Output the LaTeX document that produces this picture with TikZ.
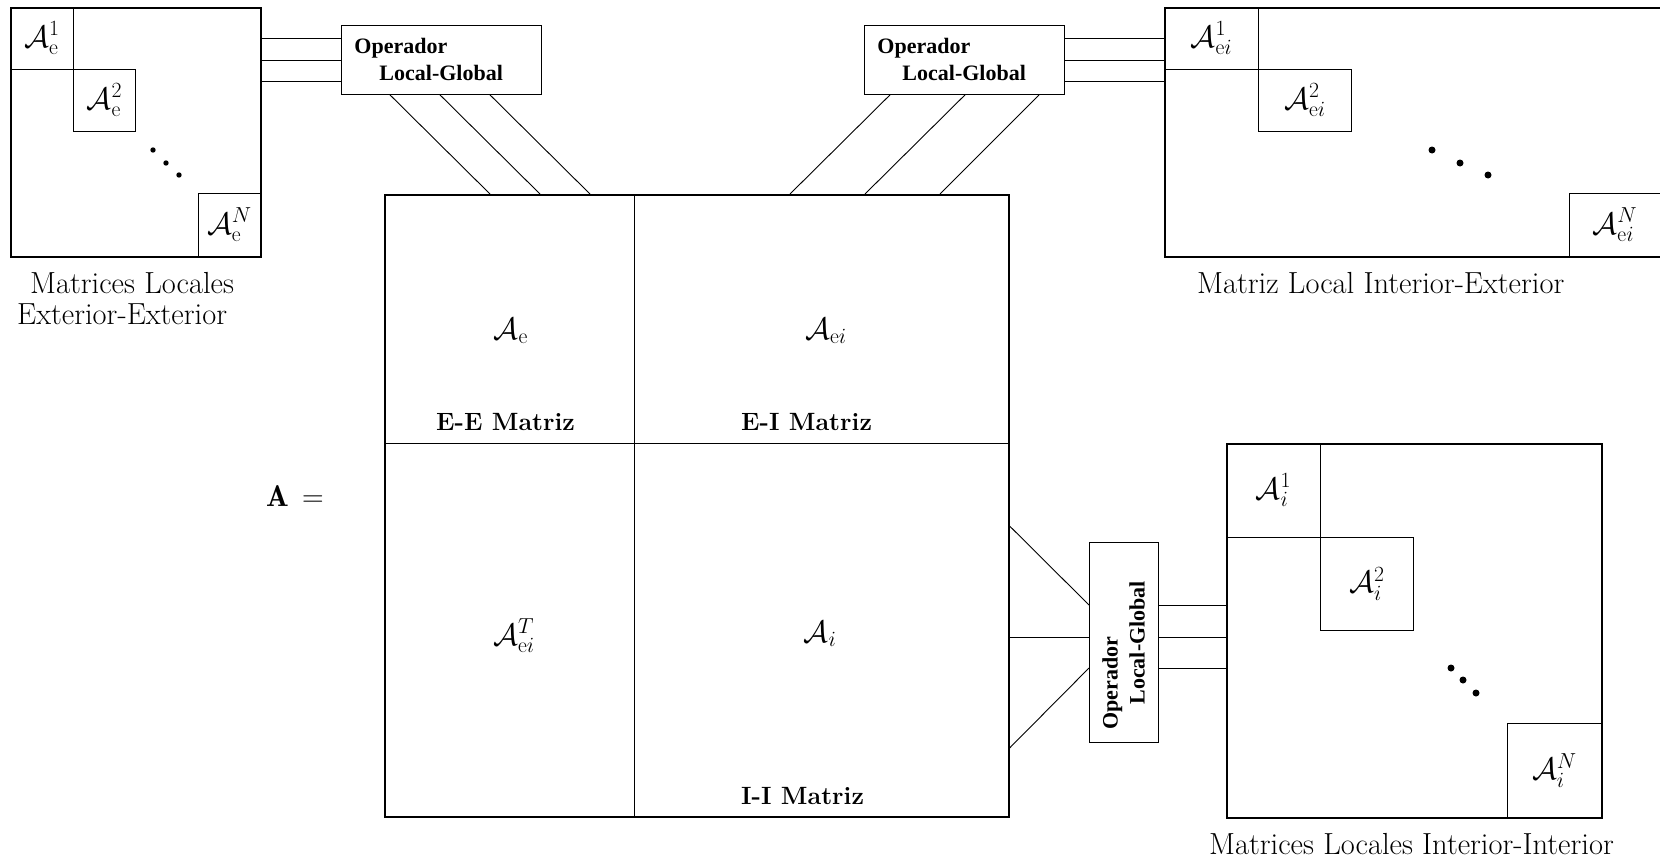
\RequirePackage{fix-cm}
\documentclass[tikz,border=0pt]{standalone}
\usepackage{fontspec}
\newfontfamily\opfont{Liberation Serif}
\usetikzlibrary{calc}
\begin{document}
\begin{tikzpicture}[x=1pt,y=-1pt,
  outer/.style={draw, line width=1.6pt, inner sep=0pt, anchor=north west},
  blk/.style={draw, line width=0.9pt, inner sep=0pt, anchor=north west, font=\fontsize{31}{33}\selectfont},
  conn/.style={line width=0.9pt},
  lab/.style={font=\fontsize{30.5}{33}\selectfont, anchor=base west, inner sep=0pt},
  bl/.style={font=\bfseries\fontsize{25}{28}\selectfont, anchor=base west, inner sep=0pt},
  mth/.style={font=\fontsize{31}{33}\selectfont, inner sep=0pt},
  opbox/.style={draw, line width=0.9pt, minimum width=200pt, minimum height=69pt, inner sep=0pt, text width=174pt, align=left, font=\opfont\bfseries\fontsize{22}{25}\selectfont},
  dotc/.style={fill, circle, inner sep=0pt, minimum size=#1}
]
\useasboundingbox (0,0) rectangle (1660,863);

% ---------- left box: local exterior-exterior
\node[outer, minimum width=250pt, minimum height=249pt] (LE) at (10,7) {};
\node[blk, minimum width=63pt, minimum height=62pt] (e1) at (10,7) {$\mathcal{A}^1_{\mathrm{e}}$};
\node[blk, minimum width=62pt, minimum height=62pt] (e2) at (73,69) {$\mathcal{A}^2_{\mathrm{e}}$};
\node[blk, minimum width=62pt, minimum height=63pt] (eN) at (198,193) {$\mathcal{A}^N_{\mathrm{e}}$};
\node[dotc=5.4pt] (ld1) at (153,150) {};
\node[dotc=5.4pt] (ld2) at (166,163) {};
\node[dotc=5.4pt] (ld3) at (179,175) {};
\node[lab] (le1) at (30,293) {Matrices Locales};
\node[lab] (le2) at (17,324) {Exterior-Exterior};

% ---------- top right box: local interior-exterior
\node[outer, minimum width=496pt, minimum height=249pt] (TR) at (1164,7) {};
\node[blk, minimum width=94pt, minimum height=62pt] (ei1) at (1164,7) {$\mathcal{A}^1_{\mathrm{e}i}$};
\node[blk, minimum width=93pt, minimum height=62pt] (ei2) at (1258,69) {$\mathcal{A}^2_{\mathrm{e}i}$};
\node[blk, minimum width=91pt, minimum height=63pt] (eiN) at (1569,193) {$\mathcal{A}^N_{\mathrm{e}i}$};
\node[dotc=7pt] (rd1) at (1432,150) {};
\node[dotc=7pt] (rd2) at (1460,163) {};
\node[dotc=7pt] (rd3) at (1488,175) {};
\node[lab] (tr1) at (1197,293) {Matriz Local Interior-Exterior};

% ---------- bottom right box: local interior-interior
\node[outer, minimum width=375pt, minimum height=374pt] (BR) at (1226,443) {};
\node[blk, minimum width=94pt, minimum height=94pt] (i1) at (1226,443) {$\mathcal{A}^1_{i}$};
\node[blk, minimum width=93pt, minimum height=93pt] (i2) at (1320,537) {$\mathcal{A}^2_{i}$};
\node[blk, minimum width=94pt, minimum height=94pt] (iN) at (1507,723) {$\mathcal{A}^N_{i}$};
\node[dotc=7pt] (bd1) at (1451,668) {};
\node[dotc=7pt] (bd2) at (1463,680) {};
\node[dotc=7pt] (bd3) at (1476,693) {};
\node[lab] (br1) at (1209,854) {Matrices Locales Interior-Interior};

% ---------- main matrix
\node[outer, minimum width=624pt, minimum height=622pt] (M) at (384,194) {};
\draw[conn] ($(M.north west)+(250,0)$) -- ($(M.south west)+(250,0)$);
\draw[conn] ($(M.north west)+(0,249)$) -- ($(M.north east)+(0,249)$);
\node[mth] (Ae) at (511,331) {$\mathcal{A}_{\mathrm{e}}$};
\node[mth] (Aei) at (826,331) {$\mathcal{A}_{\mathrm{e}i}$};
\node[mth] (AeiT) at (514,636) {$\mathcal{A}^T_{\mathrm{e}i}$};
\node[mth] (Ai) at (820,634) {$\mathcal{A}_{i}$};
\node[bl] (EE) at (436,430) {E-E Matriz};
\node[bl] (EI) at (741,430) {E-I Matriz};
\node[bl] (II) at (741,804) {I-I Matriz};
\node[anchor=base west, inner sep=0pt, font=\fontsize{30}{32}\selectfont] (Aeq) at (266,506) {$\mathbf{A}\,=$};

% ---------- operators
\node[opbox, anchor=north west] (op1) at (341,25) {\vspace*{2pt}Operador\\\hspace*{25pt}Local-Global};
\node[opbox, anchor=north west] (op2) at (864,25) {\vspace*{2pt}Operador\\\hspace*{25pt}Local-Global};
\node[opbox, rotate=90] (op3) at (1123.5,642.5) {\vspace*{2pt}Operador\\\hspace*{25pt}Local-Global};

% op1 connectors
\foreach \d in {-21.5,0.5,21.5}
  \draw[conn] ($(op1.west)+(0,\d)$) coordinate (p) -- (p -| LE.east);
\draw[conn] ($(op1.south west)+(49,0)$) -- ($(M.north west)+(106,0)$);
\draw[conn] ($(op1.south west)+(99,0)$) -- ($(M.north west)+(156,0)$);
\draw[conn] ($(op1.south west)+(149,0)$) -- ($(M.north west)+(206,0)$);

% op2 connectors
\foreach \d in {-21.5,0.5,21.5}
  \draw[conn] ($(op2.east)+(0,\d)$) coordinate (q) -- (q -| TR.west);
\draw[conn] ($(op2.south west)+(26,0)$) -- ($(M.north west)+(406,0)$);
\draw[conn] ($(op2.south west)+(101,0)$) -- ($(M.north west)+(481,0)$);
\draw[conn] ($(op2.south west)+(175,0)$) -- ($(M.north west)+(556,0)$);

% op3 connectors
\draw[conn] ($(M.north east)+(0,332)$) -- ($(op3.center)+(-34.5,-37.5)$);
\draw[conn] ($(M.north east)+(0,443)$) -- ($(op3.center)+(-34.5,-5.5)$);
\draw[conn] ($(M.north east)+(0,554)$) -- ($(op3.center)+(-34.5,25.5)$);
\foreach \d in {-37.5,-5.5,25.5}
  \draw[conn] ($(op3.center)+(34.5,\d)$) coordinate (r) -- (r -| BR.west);
\end{tikzpicture}
\end{document}
